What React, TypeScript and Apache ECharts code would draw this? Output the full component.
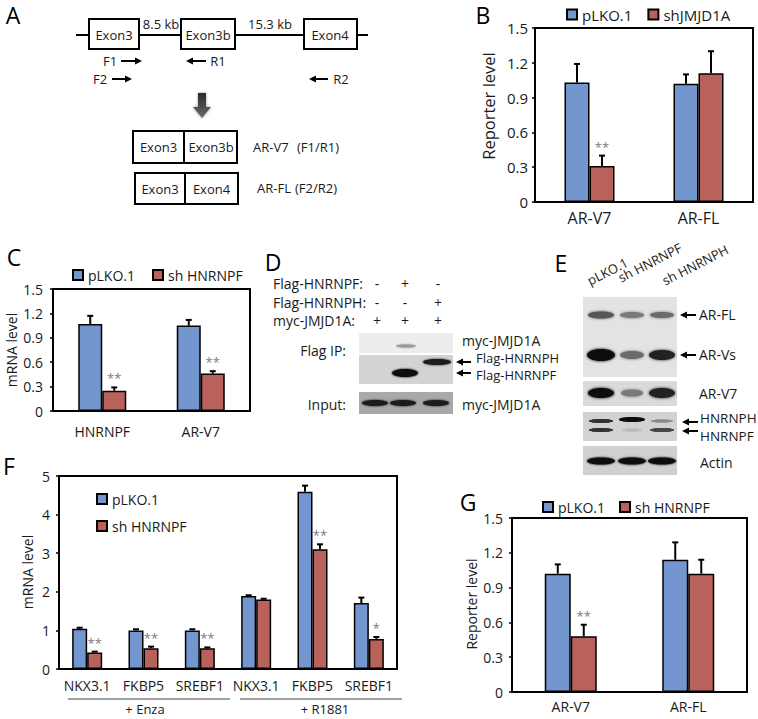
import React, { useEffect, useRef } from "react";
import * as echarts from "echarts";

const FONT = '"Open Sans", sans-serif';
const BLUE = "#7396CF";
const RED = "#B9625C";

// Panel B
const catB = ["AR-V7", "AR-FL"];
const bCtrl = [1.03, 1.02];
const bCtrlErr = [0.16, 0.08];
const bSh = [0.31, 1.11];
const bShErr = [0.09, 0.19];
const bSig = ["**", ""];

// Panel C
const catC = ["HNRNPF", "AR-V7"];
const cCtrl = [1.07, 1.05];
const cCtrlErr = [0.1, 0.07];
const cSh = [0.25, 0.46];
const cShErr = [0.04, 0.03];
const cSig = ["**", "**"];

// Panel F
const catF = ["NKX3.1", "FKBP5", "SREBF1", "NKX3.1", "FKBP5", "SREBF1"];
const fCtrl = [1.04, 1.0, 1.0, 1.89, 4.59, 1.71];
const fCtrlErr = [0.03, 0.03, 0.03, 0.02, 0.16, 0.14];
const fSh = [0.43, 0.54, 0.54, 1.8, 3.1, 0.78];
const fShErr = [0.02, 0.04, 0.02, 0.02, 0.13, 0.05];
const fSig = ["**", "**", "**", "", "**", "*"];

// Panel G
const catG = ["AR-V7", "AR-FL"];
const gCtrl = [1.02, 1.14];
const gCtrlErr = [0.08, 0.15];
const gSh = [0.48, 1.02];
const gShErr = [0.1, 0.12];
const gSig = ["**", ""];

const yTicksRep = { max: 1.5, interval: 0.3 };
const yTicksF = { max: 5, interval: 1 };

const txt = (text: string, x: number, y: number, opts: any = {}) => ({
  type: "text",
  x,
  y,
  rotation: opts.rotation || 0,
  silent: true,
  style: {
    text,
    fill: opts.fill || "#1a1a1a",
    font: `${opts.size || 14}px ${FONT}`,
    align: opts.align || "center",
    verticalAlign: opts.va || "middle",
  },
});
const rect = (x: number, y: number, w: number, h: number, fill: string, stroke?: string) => ({
  type: "rect",
  silent: true,
  shape: { x, y, width: w, height: h },
  style: stroke ? { fill, stroke, lineWidth: 2 } : { fill },
});
const line = (x1: number, y1: number, x2: number, y2: number, w = 2, c = "#000") => ({
  type: "line",
  silent: true,
  shape: { x1, y1, x2, y2 },
  style: { stroke: c, lineWidth: w },
});
const arrowR = (x1: number, x2: number, y: number) => [
  line(x1, y, x2 - 4, y),
  { type: "polygon", silent: true, shape: { points: [[x2, y], [x2 - 7, y - 3.5], [x2 - 7, y + 3.5]] }, style: { fill: "#000" } },
];
const arrowL = (xTip: number, xTail: number, y: number) => [
  line(xTip + 4, y, xTail, y),
  { type: "polygon", silent: true, shape: { points: [[xTip, y], [xTip + 7, y - 3.5], [xTip + 7, y + 3.5]] }, style: { fill: "#000" } },
];
const band = (cx: number, cy: number, w: number, h: number, color: string, blur = 3) => ({
  type: "ellipse",
  silent: true,
  shape: { cx, cy, rx: w / 2, ry: h / 2 },
  style: { fill: color, shadowBlur: blur, shadowColor: color },
});

function buildGraphics() {
  const g: any[] = [];
  // panel letters
  [["A", 13, 15], ["B", 483, 15], ["C", 14, 257], ["D", 273, 262], ["E", 561, 263], ["F", 9, 466], ["G", 468, 502]].forEach(
    ([t, x, y]: any) => g.push(txt(t, x, y, { size: 23, fill: "#000" }))
  );

  // ---- Panel A ----
  g.push(line(76, 35, 368, 35));
  g.push(rect(89, 19, 50, 30, "#fff", "#000"));
  g.push(rect(181, 19, 54, 30, "#fff", "#000"));
  g.push(rect(304, 19, 53, 30, "#fff", "#000"));
  g.push(txt("Exon3", 114, 35, { size: 13 }));
  g.push(txt("Exon3b", 208, 35, { size: 13 }));
  g.push(txt("Exon4", 330, 35, { size: 13 }));
  g.push(txt("8.5 kb", 161, 24, { size: 13 }));
  g.push(txt("15.3 kb", 270, 24, { size: 13 }));
  g.push(txt("F1", 110, 61, { size: 13 }));
  g.push(...arrowR(121, 142, 61));
  g.push(txt("F2", 100, 79, { size: 13 }));
  g.push(...arrowR(112, 132, 79));
  g.push(...arrowL(186, 206, 61));
  g.push(txt("R1", 218, 61, { size: 13 }));
  g.push(...arrowL(309, 328, 79));
  g.push(txt("R2", 341, 79, { size: 13 }));
  g.push({
    type: "polygon",
    silent: true,
    shape: { points: [[198, 93], [206, 93], [206, 107], [211, 107], [202, 118], [193, 107], [198, 107]] },
    style: {
      fill: new echarts.graphic.LinearGradient(0, 0, 0, 1, [
        { offset: 0, color: "#2a2a2a" },
        { offset: 1, color: "#6a6a6a" },
      ]),
      shadowBlur: 3,
      shadowColor: "#999",
    },
  });
  g.push(rect(133, 131, 104, 32, "#fff", "#000"));
  g.push(line(184, 131, 184, 163));
  g.push(txt("Exon3", 158.5, 147, { size: 13 }));
  g.push(txt("Exon3b", 211, 147, { size: 13 }));
  g.push(txt("AR-V7", 253, 147, { size: 13, align: "left" }));
  g.push(txt("(F1/R1)", 297, 147, { size: 13, align: "left" }));
  g.push(rect(135, 173, 103, 31, "#fff", "#000"));
  g.push(line(185, 173, 185, 204));
  g.push(txt("Exon3", 160, 188.5, { size: 13 }));
  g.push(txt("Exon4", 211.5, 188.5, { size: 13 }));
  g.push(txt("AR-FL", 257, 188, { size: 13, align: "left" }));
  g.push(txt("(F2/R2)", 295, 188, { size: 13, align: "left" }));

  // ---- Panel D ----
  const dRows: [string, string[], number][] = [
    ["Flag-HNRNPF:", ["-", "+", "-"], 283],
    ["Flag-HNRNPH:", ["-", "-", "+"], 302],
    ["myc-JMJD1A:", ["+", "+", "+"], 320],
  ];
  const dCols = [377, 405, 438];
  dRows.forEach(([lab, signs, y]) => {
    g.push(txt(lab, 273, y, { align: "left" }));
    signs.forEach((s, i) => g.push(txt(s, dCols[i], y)));
  });
  g.push(rect(359, 333, 94, 20, "#ededed"));
  g.push(band(406, 346, 20, 3, "#9a9a9a", 2));
  g.push(rect(359, 355, 94, 29, "#d3d3d3"));
  g.push(band(405, 373, 26, 8, "#111", 2));
  g.push(band(437, 362, 28, 6, "#1a1a1a", 2));
  g.push(rect(359, 392, 94, 22, "#a9a9a9"));
  dCols.forEach((c) => g.push(band(c - 2, 403, 26, 6, "#1e1e1e", 2)));
  g.push(txt("Flag IP:", 346, 350, { align: "right" }));
  g.push(txt("Input:", 346, 404, { align: "right" }));
  g.push(txt("myc-JMJD1A", 462, 340, { align: "left" }));
  g.push(...arrowL(456, 471, 362));
  g.push(txt("Flag-HNRNPH", 476, 358, { align: "left", size: 13 }));
  g.push(...arrowL(456, 471, 373));
  g.push(txt("Flag-HNRNPF", 476, 375, { align: "left", size: 13 }));
  g.push(txt("myc-JMJD1A", 462, 404, { align: "left" }));

  // ---- Panel E ----
  const eCols = [601, 632, 662];
  const rot = (27 * Math.PI) / 180;
  g.push(txt("pLKO.1", 591, 287, { size: 13, align: "left", va: "bottom", rotation: rot }));
  g.push(txt("sh HNRNPF", 622, 284, { size: 13, align: "left", va: "bottom", rotation: rot }));
  g.push(txt("sh HNRNPH", 666, 287, { size: 13, align: "left", va: "bottom", rotation: rot }));
  g.push(rect(583, 297, 94, 80, "#e3e3e3"));
  g.push(band(eCols[0], 315, 26, 7, "#555", 3));
  g.push(band(eCols[1], 315, 24, 6, "#7a7a7a", 3));
  g.push(band(eCols[2], 315, 24, 6, "#6a6a6a", 3));
  g.push(band(eCols[0], 355, 28, 12, "#111", 3));
  g.push(band(eCols[1], 355, 24, 8, "#6a6a6a", 3));
  g.push(band(eCols[2], 355, 26, 10, "#222", 3));
  g.push(rect(583, 381, 94, 25, "#dadada"));
  g.push(band(eCols[0], 393, 26, 10, "#111", 3));
  g.push(band(eCols[1], 393, 22, 7, "#7a7a7a", 3));
  g.push(band(eCols[2], 393, 26, 10, "#222", 3));
  g.push(rect(583, 412, 94, 29, "#d2d2d2"));
  g.push(band(eCols[0], 421, 24, 4, "#333", 1.5));
  g.push(band(eCols[1], 419.5, 26, 5, "#111", 1.5));
  g.push(band(eCols[2], 421, 22, 3, "#8a8a8a", 1.5));
  g.push(band(eCols[0], 430, 24, 4, "#333", 1.5));
  g.push(band(eCols[1], 430, 20, 3, "#bbb", 1.5));
  g.push(band(eCols[2], 430, 24, 4, "#444", 1.5));
  g.push(rect(583, 446, 94, 29, "#d0d0d0"));
  eCols.forEach((c) => g.push(band(c, 461, 28, 7, "#111", 2)));
  g.push(...arrowL(680, 696, 315));
  g.push(txt("AR-FL", 699, 314, { align: "left" }));
  g.push(...arrowL(680, 696, 355));
  g.push(txt("AR-Vs", 699, 354, { align: "left" }));
  g.push(txt("AR-V7", 699, 393, { align: "left" }));
  g.push(...arrowL(682, 698, 422));
  g.push(txt("HNRNPH", 700, 418, { align: "left", size: 13.5 }));
  g.push(...arrowL(682, 698, 431));
  g.push(txt("HNRNPF", 700, 436, { align: "left", size: 13.5 }));
  g.push(txt("Actin", 700, 462, { align: "left" }));

  // ---- axis names ----
  g.push(txt("Reporter level", 488, 106, { rotation: Math.PI / 2, size: 16.5 }));
  g.push(txt("mRNA level", 11, 350, { rotation: Math.PI / 2 }));
  g.push(txt("mRNA level", 27, 572, { rotation: Math.PI / 2 }));
  g.push(txt("Reporter level", 471, 604, { rotation: Math.PI / 2 }));

  // ---- Panel F group labels ----
  g.push(line(68, 699, 230, 699, 1, "#444"));
  g.push(line(240, 699, 402, 699, 1, "#444"));
  g.push(txt("+ Enza", 145, 709, { size: 13 }));
  g.push(txt("+ R1881", 325, 709, { size: 13 }));
  return g;
}

const xAx = (gridIndex: number, data: string[], margin: number, size = 14) => ({
  type: "category",
  gridIndex,
  data,
  axisLine: { lineStyle: { color: "#000", width: 2 } },
  axisTick: { show: false },
  axisLabel: { color: "#1a1a1a", fontSize: size, fontFamily: FONT, margin, interval: 0 },
});
const yAx = (gridIndex: number, t: { max: number; interval: number }, margin: number, size = 14) => ({
  type: "value",
  gridIndex,
  min: 0,
  max: t.max,
  interval: t.interval,
  splitLine: { show: false },
  axisLine: { show: true, lineStyle: { color: "#000", width: 2 } },
  axisTick: { show: true, length: 3, lineStyle: { color: "#000", width: 1.5 } },
  axisLabel: { color: "#1a1a1a", fontSize: size, fontFamily: FONT, margin },
});

const bar = (name: string, gi: number, data: number[], color: string, bw: number) => ({
  type: "bar",
  name,
  xAxisIndex: gi,
  yAxisIndex: gi,
  data,
  barWidth: bw,
  barGap: "0%",
  itemStyle: { color, borderColor: "#000", borderWidth: 1.5 },
});

const errSeries = (name: string, gi: number, vals: number[], errs: number[], sigs: string[] | null, off: number) => ({
  type: "custom",
  name,
  xAxisIndex: gi,
  yAxisIndex: gi,
  z: 5,
  silent: true,
  clip: false,
  data: vals.map((v, i) => [i, v, errs[i]]),
  renderItem: (params: any, api: any) => {
    const i = api.value(0);
    const v = api.value(1);
    const e = api.value(2);
    const p0 = api.coord([i, v]);
    const p1 = api.coord([i, v + e]);
    const cx = p0[0] + off;
    const children: any[] = [
      { type: "line", shape: { x1: cx, y1: p0[1], x2: cx, y2: p1[1] }, style: { stroke: "#000", lineWidth: 2 } },
      { type: "line", shape: { x1: cx - 3, y1: p1[1], x2: cx + 3, y2: p1[1] }, style: { stroke: "#000", lineWidth: 2 } },
    ];
    const s = sigs ? sigs[params.dataIndex] : "";
    if (s) {
      children.push({
        type: "text",
        style: { text: s, x: cx, y: p1[1] - 9, align: "center", verticalAlign: "middle", fill: "#7a7a7a", font: `13px ${FONT}` },
      });
    }
    return { type: "group", children };
  },
});

const legendBase = (data: string[], left: number, top: number, itemGap: number, orient = "horizontal", size = 14) => ({
  data,
  left,
  top,
  orient,
  itemGap,
  padding: 0,
  icon: "rect",
  itemWidth: 10,
  itemHeight: 10,
  selectedMode: false,
  textStyle: { fontSize: size, fontFamily: FONT, color: "#1a1a1a" },
});

export default function App() {
  const ref = useRef<HTMLDivElement>(null);
  useEffect(() => {
    if (!ref.current) return;
    const chart = echarts.init(ref.current, null, { renderer: "svg" });
    const gridStyle = { show: true, borderColor: "#000", borderWidth: 2, backgroundColor: "transparent" };
    const option: any = {
      animation: false,
      backgroundColor: "#fff",
      textStyle: { fontFamily: FONT },
      grid: [
        { left: 535, top: 28, right: 5, bottom: 517, ...gridStyle },
        { left: 53, top: 289, right: 508, bottom: 308, ...gridStyle },
        { left: 59, top: 476, right: 361, bottom: 50, ...gridStyle },
        { left: 512, top: 518, right: 11, bottom: 27, ...gridStyle },
      ],
      xAxis: [xAx(0, catB, 8, 16), xAx(1, catC, 13), xAx(2, catF, 9), xAx(3, catG, 7)],
      yAxis: [yAx(0, yTicksRep, 7, 15), yAx(1, yTicksRep, 10), yAx(2, yTicksF, 9), yAx(3, yTicksRep, 9)],
      legend: [
        legendBase(["pLKO.1", "shJMJD1A"], 566, 7, 15, "horizontal", 15),
        legendBase(["pLKO.1", "sh HNRNPF"], 72, 268, 17),
        legendBase(["pLKO.1", "sh HNRNPF"], 96, 492, 13, "vertical"),
        legendBase(["pLKO.1", "sh HNRNPF"], 542, 500, 14),
      ],
      series: [
        bar("pLKO.1", 0, bCtrl, BLUE, 25),
        bar("shJMJD1A", 0, bSh, RED, 25),
        errSeries("errB1", 0, bCtrl, bCtrlErr, null, -12.5),
        errSeries("errB2", 0, bSh, bShErr, bSig, 12.5),
        bar("pLKO.1", 1, cCtrl, BLUE, 24),
        bar("sh HNRNPF", 1, cSh, RED, 24),
        errSeries("errC1", 1, cCtrl, cCtrlErr, null, -12),
        errSeries("errC2", 1, cSh, cShErr, cSig, 12),
        bar("pLKO.1", 2, fCtrl, BLUE, 15),
        bar("sh HNRNPF", 2, fSh, RED, 15),
        errSeries("errF1", 2, fCtrl, fCtrlErr, null, -7.5),
        errSeries("errF2", 2, fSh, fShErr, fSig, 7.5),
        bar("pLKO.1", 3, gCtrl, BLUE, 26),
        bar("sh HNRNPF", 3, gSh, RED, 26),
        errSeries("errG1", 3, gCtrl, gCtrlErr, null, -13),
        errSeries("errG2", 3, gSh, gShErr, gSig, 13),
      ],
      graphic: { elements: buildGraphics() },
    };
    chart.setOption(option);
    return () => chart.dispose();
  }, []);
  return (
    <div
      ref={ref}
      style={{ position: "fixed", left: 0, top: 0, width: 758, height: 719, background: "#fff" }}
    />
  );
}
